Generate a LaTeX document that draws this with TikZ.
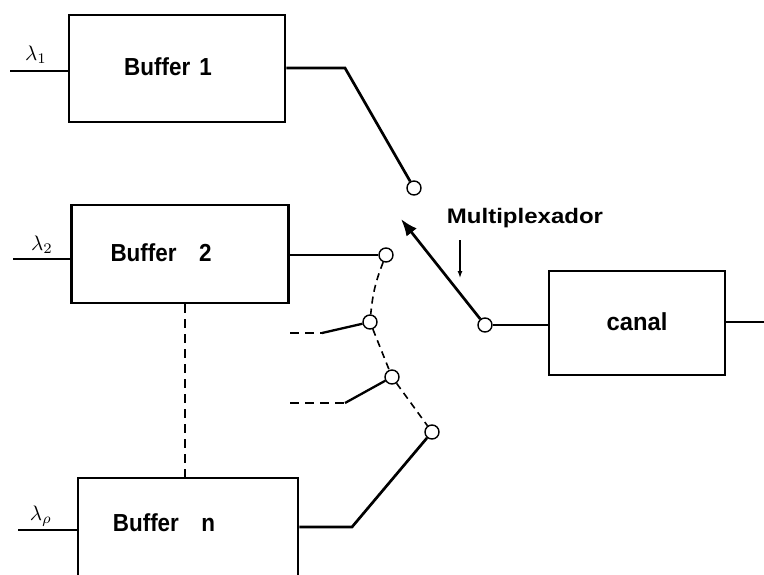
\documentclass[tikz,border=0pt]{standalone}
\usepackage{fontspec}
\setmainfont{Liberation Sans}
\usetikzlibrary{arrows.meta}
\tikzset{
  box/.style={draw, line width=2.6pt, inner sep=0pt},
  lbl/.style={font=\bfseries\fontsize{22}{24}\selectfont, inner sep=0pt},
  lam/.style={inner sep=0pt},
  sw/.style={draw, circle, line width=1.4pt, fill=white, minimum size=14pt, inner sep=0pt},
  wire/.style={line width=2.7pt},
  dwire/.style={line width=1.6pt, dash pattern=on 9pt off 6pt},
}
\begin{document}
\begin{tikzpicture}[x=1pt,y=-1pt]
\useasboundingbox (0,0) rectangle (764,574);
\clip (0,0) rectangle (764,574);
% boxes
\node[box, minimum width=216pt, minimum height=107pt] (b1) at (177,68.5) {};
\node[box, minimum width=217pt, minimum height=98pt] (b2) at (180,254) {};
\node[box, minimum width=220pt, minimum height=130pt] (bn) at (188,543) {};
\node[box, minimum width=176pt, minimum height=104pt] (canal) at (637,323) {};
% labels
\node[lbl] (t1) at (168,67) {\scalebox{1.02}[1.12]{Buffer\hspace{0.4em}1}};
\node[lbl] (t2) at (161,253) {\scalebox{1.02}[1.12]{Buffer\hspace{1.0em}2}};
\node[lbl] (tn) at (164,523) {\scalebox{1.02}[1.12]{Buffer\hspace{1.0em}n}};
\node[lbl] (tc) at (637,322) {\scalebox{1.08}[1.12]{canal}};
\node[lbl, font=\bfseries\fontsize{20}{24}\selectfont] (mux) at (525,218) {\scalebox{1.2}[1.05]{Multiplexador}};
\node[lam] (l1) at (36,55) {\scalebox{2.1}{$\lambda_1$}};
\node[lam] (l2) at (42,245) {\scalebox{2.1}{$\lambda_2$}};
\node[lam] (lr) at (41,516) {\scalebox{2.1}{$\lambda_\rho$}};
% inputs
\coordinate (i1) at (10,71);
\coordinate (i2) at (13,259);
\coordinate (i3) at (18,530);
\draw[wire] (i1) -- (i1 -| b1.west);
\draw[wire] (i2) -- (i2 -| b2.west);
\draw[wire] (i3) -- (i3 -| bn.west);
% switch contacts
\node[sw] (c1) at (414,188) {};
\node[sw] (c2) at (386,255) {};
\node[sw] (c3) at (370,322) {};
\node[sw] (c4) at (392,377) {};
\node[sw] (c5) at (432,432) {};
\node[sw] (c6) at (485,325) {};
% outputs of buffers
\coordinate (k1) at (345,68);
\draw[wire] (b1.east |- k1) -- (k1) -- (c1);
\draw[wire] (b2.east |- c2) -- (c2);
\coordinate (k3) at (352,527);
\draw[wire] (bn.east |- k3) -- (k3) -- (c5);
% stubs
\coordinate (s1a) at (290,333);
\coordinate (s1b) at (322,333);
\coordinate (s2a) at (290,403);
\coordinate (s2b) at (345,403);
\draw[dwire] (s1a) -- (s1b);
\draw[wire, line width=2.3pt] (s1b) -- (c3);
\draw[dwire] (s2a) -- (s2b);
\draw[wire, line width=2.3pt] (s2b) -- (c4);
% dashed chain
\draw[dwire, dash pattern=on 7pt off 5pt] (c2) to[bend right=8] (c3);
\draw[dwire, dash pattern=on 7pt off 5pt] (c3) -- (c4);
\draw[dwire, dash pattern=on 7pt off 5pt] (c4) -- (c5);
% vertical dashed between buffers
\coordinate (v) at (185,0);
\draw[dwire] (b2.south -| v) -- (bn.north -| v);
% mux arm
\coordinate (tip) at (401,219);
\draw[wire, -{Latex[length=17pt,width=13pt]}] (c6) -- (tip);
\draw[wire] (c6) -- (canal.west |- c6);
% canal output
\coordinate (o) at (764,322);
\draw[wire] (canal.east |- o) -- (o);
% small arrow
\coordinate (a1) at (460,240);
\coordinate (a2) at (460,278);
\draw[line width=1.3pt, -{Latex[length=7pt,width=5pt]}] (a1) -- (a2);
\end{tikzpicture}
\end{document}
